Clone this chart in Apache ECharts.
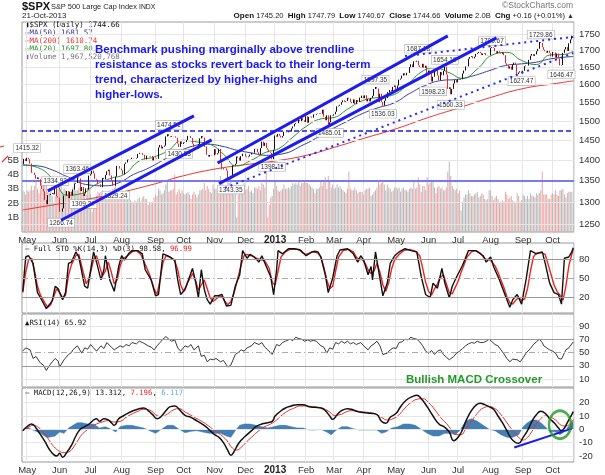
<!DOCTYPE html>
<html><head><meta charset="utf-8">
<script src="https://cdn.jsdelivr.net/npm/echarts@6/dist/echarts.min.js"></script>
<style>html,body{margin:0;padding:0;background:#fff}#c{width:605px;height:475px}</style>
</head><body><div id="c"></div>
<script>
// ---------- categories (NYSE trading days) ----------
const firstDay = '2012-04-26', lastDay = '2013-10-21';
const holidays = ['2012-05-28','2012-07-04','2012-09-03','2012-10-29','2012-10-30','2012-11-22','2012-12-25',
  '2013-01-01','2013-01-21','2013-02-18','2013-03-29','2013-05-27','2013-07-04','2013-09-02'];
const monthNames = ['Jan','Feb','Mar','Apr','May','Jun','Jul','Aug','Sep','Oct','Nov','Dec'];

// ---------- daily closes ----------
const closes = [
1390.69,1403.36,1397.91,
1405.82,1402.31,1391.57,1369.10,1369.58,1363.72,1354.58,1357.99,1353.39,1338.35,1330.66,1324.80,1304.86,1295.22,1315.99,1316.63,1318.86,1320.68,1317.82,1332.42,1313.32,1310.33,
1278.04,1278.18,1285.50,1315.13,1314.99,1325.66,1308.93,1324.18,1314.88,1329.10,1342.84,1344.78,1357.98,1355.69,1325.51,1335.02,1313.72,1319.99,1331.85,1329.04,1362.16,
1365.51,1374.02,1367.58,1354.68,1352.46,1341.47,1341.45,1334.76,1356.78,1353.64,1363.67,1372.78,1376.51,1362.66,1350.52,1338.31,1337.89,1360.02,1385.97,1385.30,1379.32,
1375.32,1365.00,1390.99,1394.23,1401.35,1402.22,1402.80,1405.87,1404.11,1403.93,1405.53,1415.51,1418.16,1418.13,1413.17,1413.49,1402.08,1411.13,1410.44,1409.30,1410.49,1399.48,1406.58,
1404.94,1403.44,1432.12,1437.92,1429.08,1433.56,1436.56,1459.99,1465.77,1461.19,1459.32,1461.05,1460.26,1460.15,1456.89,1441.59,1433.32,1447.15,1440.67,
1444.49,1445.75,1450.99,1461.40,1460.93,1455.88,1441.48,1432.56,1432.84,1428.59,1440.13,1454.92,1460.91,1457.34,1433.19,1433.82,1413.11,1408.75,1412.97,1411.94,1412.16,
1427.59,1414.20,1417.26,1428.39,1394.53,1377.51,1379.85,1380.03,1374.53,1355.49,1353.33,1359.88,1386.89,1387.81,1391.03,1409.15,1406.29,1398.94,1409.93,1415.95,1416.18,
1409.46,1407.05,1409.28,1413.94,1418.07,1418.55,1427.84,1428.48,1419.45,1413.58,1430.36,1446.79,1435.81,1443.69,1430.15,1426.66,1419.83,1418.10,1402.43,1426.19,
1462.42,1459.37,1466.47,1461.89,1457.15,1461.02,1472.12,1472.05,1470.68,1472.34,1472.63,1480.94,1485.98,1492.56,1494.81,1494.82,1502.96,1500.18,1507.84,1501.96,1498.11,
1513.17,1495.71,1511.29,1512.12,1509.39,1517.93,1517.01,1519.43,1520.33,1521.38,1519.79,1530.94,1511.95,1502.42,1515.60,1487.85,1496.94,1515.99,1514.68,
1518.20,1525.20,1539.79,1541.46,1544.26,1551.18,1556.22,1552.48,1554.52,1563.23,1560.70,1552.10,1548.34,1558.71,1545.80,1556.89,1551.69,1563.77,1562.85,1569.19,
1562.17,1570.25,1553.69,1559.98,1553.28,1563.07,1568.61,1587.73,1593.37,1588.85,1552.36,1574.57,1552.01,1541.61,1555.25,1562.50,1578.78,1578.79,1585.16,1582.24,1593.61,1597.57,
1582.70,1597.59,1614.42,1617.50,1625.96,1632.69,1626.67,1633.70,1633.77,1650.34,1658.78,1650.47,1667.47,1666.29,1669.16,1655.35,1650.51,1649.60,1660.06,1648.36,1654.41,1630.74,
1640.42,1631.38,1608.90,1622.56,1643.38,1642.81,1626.13,1612.52,1636.36,1626.73,1639.04,1651.81,1628.93,1588.19,1592.43,1573.09,1588.03,1603.26,1613.20,1606.28,
1614.96,1614.08,1615.41,1631.89,1640.46,1652.32,1652.62,1675.02,1680.19,1682.50,1676.26,1680.91,1689.37,1692.09,1695.53,1692.39,1685.94,1690.25,1691.65,1685.33,1685.96,1685.73,
1706.87,1709.67,1707.14,1697.37,1690.91,1697.48,1691.42,1689.47,1694.16,1685.39,1661.32,1655.83,1646.06,1652.35,1642.80,1656.96,1663.50,1656.78,1630.48,1634.96,1638.17,1632.97,
1639.77,1653.08,1655.08,1655.17,1671.71,1683.99,1689.13,1683.42,1687.99,1697.60,1704.76,1725.52,1722.34,1709.91,1701.84,1697.42,1692.77,1698.67,1691.75,1681.55,
1695.00,1693.87,1678.66,1690.50,1676.12,1655.45,1656.40,1692.56,1703.20,1710.14,1698.06,1721.54,1733.15,1744.50,1744.66
];

// ---------- daily volume (billions) ----------
const volumes = [
2.9,2.8,2.6,
2.9,2.8,2.9,3.2,2.9,3.2,3.5,3.0,2.7,3.0,3.2,3.4,3.6,3.8,2.8,2.7,2.9,2.5,2.0,2.5,2.8,3.0,
3.7,3.4,2.8,3.1,2.9,2.6,2.7,2.8,2.8,3.1,3.9,2.9,2.9,3.1,3.5,2.7,2.6,2.4,2.6,2.9,3.5,
2.6,1.4,2.2,2.4,2.5,2.8,2.7,2.8,2.9,2.7,2.8,2.8,2.7,2.9,2.8,3.0,3.1,3.2,3.0,2.6,2.7,
2.8,2.9,2.6,2.3,2.5,2.3,2.2,2.1,2.0,2.2,2.1,2.3,2.4,2.1,2.4,2.5,2.3,2.3,1.9,2.1,2.0,2.1,2.4,
2.6,2.5,3.0,2.9,2.6,2.7,2.9,3.3,3.6,2.8,2.9,2.9,3.0,4.0,2.6,2.8,3.0,2.7,2.9,
2.7,2.6,2.7,2.8,2.6,2.3,2.6,2.8,2.6,2.4,2.6,2.9,2.9,3.0,3.4,2.9,3.2,3.0,2.8,2.7,3.3,
3.0,3.0,2.6,3.0,3.9,3.6,3.2,2.7,3.0,3.5,3.4,3.6,3.0,2.6,2.7,1.0,2.6,2.9,3.1,2.8,3.4,
2.9,3.0,3.2,2.8,2.9,2.7,3.1,3.1,3.0,3.2,2.9,3.4,3.3,3.1,4.7,1.0,1.9,2.4,2.5,3.0,
3.6,3.2,2.9,2.8,2.9,3.0,3.3,3.0,3.0,3.1,3.0,3.2,3.4,3.3,3.4,3.3,3.5,3.2,3.4,3.4,3.5,
3.4,3.4,3.3,3.2,3.1,3.0,2.7,3.0,3.0,3.1,3.6,3.2,3.6,3.8,3.0,3.9,3.5,3.1,3.3,
3.0,3.1,3.3,3.1,3.2,3.0,2.9,2.8,2.7,3.0,4.2,3.0,2.9,2.9,3.1,2.9,2.7,2.8,2.8,2.8,
2.6,2.9,3.0,3.0,3.1,2.5,2.6,2.8,2.9,3.1,3.5,3.3,3.4,3.6,3.3,2.9,3.3,3.1,3.0,2.8,2.9,3.1,
3.1,3.0,3.1,2.8,3.0,3.1,2.9,2.9,2.8,3.0,3.1,3.0,3.5,3.0,3.1,3.8,3.3,2.8,3.2,3.2,2.9,3.8,
3.3,3.4,3.5,3.6,3.1,2.7,3.1,3.2,3.0,3.1,2.9,2.9,3.1,4.2,4.9,3.9,3.2,3.0,2.9,3.0,
2.7,2.9,1.5,2.1,2.4,2.6,2.6,2.9,2.7,2.5,2.5,2.6,2.7,2.8,2.4,2.5,2.7,2.6,2.3,2.2,2.3,2.9,
2.9,2.5,2.2,2.4,2.5,2.3,2.1,2.1,2.2,2.1,2.8,2.6,2.3,2.4,2.5,2.2,2.1,2.0,2.7,2.5,2.1,2.2,
2.6,2.5,2.3,2.5,2.3,2.7,2.5,2.5,2.4,2.7,2.6,2.7,2.9,4.2,2.6,2.6,2.6,2.3,2.3,2.6,
2.7,2.6,2.9,2.6,2.5,2.9,2.9,3.0,2.6,2.4,2.7,2.8,2.8,2.8,2.0
];

// ---------- moving averages [dayIndex, value] ----------
const ma20 = [[0,1388],[10,1382],[21,1352],[30,1316],[40,1320],[49,1340],[59,1355],[69,1366],[79,1398],[89,1408],[99,1425],[108,1450],[118,1446],[128,1438],[136,1415],[145,1386],[155,1400],[165,1420],[173,1428],[183,1458],[192,1486],[202,1506],[211,1510],[220,1532],[230,1555],[240,1564],[250,1570],[260,1597],[270,1636],[279,1648],[289,1634],[298,1618],[308,1645],[318,1686],[328,1694],[338,1670],[348,1658],[357,1686],[367,1688],[373,1697.8]];
const ma50 = [[0,1388],[10,1386],[20,1376],[30,1360],[45,1340],[55,1338],[65,1345],[75,1365],[85,1380],[95,1400],[105,1420],[115,1435],[125,1440],[135,1435],[145,1425],[155,1418],[165,1412],[175,1415],[191,1440],[200,1458],[210,1480],[220,1500],[230,1520],[240,1535],[252,1550],[262,1575],[274,1600],[284,1612],[294,1615],[305,1625],[316,1640],[327,1655],[338,1660],[348,1665],[358,1675],[373,1681.57]];
const ma200 = [[0,1282],[25,1296],[46,1308],[67,1323],[90,1343],[109,1362],[130,1378],[151,1389],[171,1398],[192,1412],[211,1432],[231,1455],[253,1480],[275,1510],[295,1535],[317,1564],[339,1589],[359,1602],[373,1610.74]];

// ---------- annotation values (price level labels, trendlines) ----------
const pivotLabels = [[3,1415.32,'top'],[22,1334.93,'top'],[26,1266.74,'bottom'],[37,1363.46,'top'],[41,1309.27,'bottom'],[63,1329.24,'bottom'],[99,1474.51,'top'],[106,1430.53,'bottom'],[141,1343.35,'bottom'],[169,1398.11,'bottom'],[208,1485.01,'bottom'],[239,1597.35,'top'],[244,1536.03,'bottom'],[268,1687.18,'top'],[278,1598.23,'bottom'],[286,1654.19,'top'],[290,1560.33,'bottom'],[318,1709.67,'top'],[338,1627.47,'bottom'],[351,1729.86,'top'],[365,1646.47,'bottom']];
const channelA_up = [[17,1326],[116,1514]];
const channelA_lo = [[26,1259],[128,1451]];
const channelB_up = [[132,1393],[288,1744]];
const channelB_lo = [[133,1343],[321,1738]];
const dottedTop = [[259,1683],[373,1741]];
const dottedLow = [[137,1333],[373,1692]];
const resistanceLevel = 1474.51;
const supportLevel = 1350;

// ---------- indicators [dayIndex, value] ----------
const stoK = [[0,30],[2,84],[4,86],[7,74],[10,28],[12,20],[16,3],[17,5],[20,15],[22,38],[24,34],[27,17],[29,28],[31,74],[33,76],[36,92],[38,84],[42,38],[44,35],[48,92],[50,76],[53,48],[55,64],[56,86],[59,48],[62,30],[65,69],[67,86],[69,79],[72,90],[74,94],[78,94],[81,89],[83,64],[87,48],[90,23],[92,25],[95,89],[98,86],[101,82],[103,79],[105,48],[107,25],[110,33],[115,66],[117,46],[119,20],[121,64],[123,33],[125,17],[127,10],[130,23],[132,23],[135,25],[138,7],[141,8],[144,38],[147,56],[149,94],[152,82],[154,88],[157,84],[160,76],[162,86],[165,69],[168,53],[170,25],[172,64],[173,94],[176,89],[180,97],[184,97],[188,95],[192,86],[196,92],[198,93],[200,92],[202,84],[205,56],[207,28],[210,51],[213,86],[215,95],[220,97],[224,89],[227,76],[229,86],[231,79],[234,56],[236,69],[237,48],[239,92],[241,64],[244,23],[247,43],[249,74],[252,86],[255,92],[259,97],[263,94],[267,92],[270,53],[273,25],[276,20],[278,43],[281,35],[284,66],[286,43],[289,20],[291,38],[294,53],[298,71],[302,94],[307,94],[312,86],[314,76],[317,84],[319,69],[323,48],[327,23],[330,5],[332,17],[335,25],[338,10],[341,48],[344,94],[348,89],[352,92],[354,74],[357,43],[360,28],[363,25],[365,10],[367,82],[370,84],[372,92],[373,98.58]];
const stoD = [[0,28],[2,60],[4,80],[6,82],[8,62],[10,38],[12,24],[15,12],[17,5],[19,9],[21,22],[23,34],[25,28],[27,20],[29,24],[31,55],[33,72],[36,86],[38,88],[41,60],[43,42],[45,50],[48,80],[50,86],[52,70],[54,54],[56,62],[58,76],[60,60],[62,42],[64,48],[66,70],[68,82],[70,84],[72,88],[74,92],[77,94],[80,88],[83,72],[86,56],[89,34],[91,25],[93,48],[95,75],[97,86],[100,84],[103,78],[105,64],[107,40],[109,30],[112,45],[115,58],[117,48],[119,32],[121,40],[123,48],[125,34],[127,20],[129,14],[131,18],[133,22],[135,22],[137,14],[139,9],[141,14],[143,26],[145,44],[148,72],[150,86],[152,88],[155,86],[158,82],[161,80],[164,78],[167,66],[169,44],[171,40],[173,62],[175,84],[178,92],[181,96],[184,96],[187,96],[190,90],[192,88],[195,91],[197,92],[200,90],[202,84],[204,68],[206,48],[208,34],[210,38],[212,62],[214,84],[217,94],[221,96],[224,92],[226,84],[228,80],[230,80],[232,74],[234,64],[236,58],[238,62],[240,74],[242,60],[244,40],[246,30],[248,44],[250,66],[252,80],[255,88],[258,94],[262,96],[266,93],[269,86],[271,66],[273,44],[275,30],[277,24],[279,34],[281,42],[283,52],[285,56],[287,42],[289,28],[291,26],[293,36],[295,46],[297,60],[299,72],[301,84],[304,92],[307,94],[310,90],[312,84],[314,80],[316,80],[318,76],[320,70],[322,60],[324,48],[326,36],[328,22],[330,12],[332,10],[334,16],[336,20],[338,16],[340,18],[342,34],[344,62],[346,84],[348,90],[351,91],[354,88],[356,72],[358,56],[360,40],[362,30],[364,24],[366,16],[368,38],[370,70],[372,88],[373,96.99]];
const rsi = [[0,52],[2,57],[5,54],[7,41],[9,44],[12,34],[14,31],[16,23],[18,30],[20,36],[22,41],[24,37],[25,28],[28,39],[31,47],[33,50],[34,54],[37,60],[40,49],[42,57],[44,55],[46,62],[48,57],[50,52],[53,60],[55,56],[57,65],[60,58],[62,54],[64,57],[66,60],[68,58],[70,62],[72,60],[74,65],[77,63],[79,67],[82,64],[85,60],[87,58],[89,54],[91,60],[93,65],[95,70],[97,74],[99,70],[101,67],[103,69],[105,57],[107,52],[110,60],[112,58],[114,62],[116,54],[119,60],[121,44],[123,46],[125,36],[127,40],[129,39],[131,41],[134,36],[136,38],[139,28],[141,31],[144,47],[146,50],[148,54],[150,52],[152,57],[155,60],[157,65],[160,62],[162,65],[164,58],[166,54],[169,47],[172,62],[174,60],[176,65],[178,67],[181,70],[183,68],[185,73],[187,71],[189,70],[191,67],[193,69],[195,67],[197,68],[199,67],[202,60],[204,58],[206,49],[208,57],[210,55],[212,65],[214,63],[216,67],[218,64],[220,67],[222,63],[224,65],[226,62],[229,65],[231,60],[234,54],[236,60],[238,63],[240,67],[242,60],[243,54],[244,47],[247,49],[249,54],[251,57],[253,56],[255,65],[257,66],[259,70],[261,69],[263,73],[265,71],[267,70],[269,66],[271,60],[273,52],[275,49],[277,53],[279,47],[281,52],[283,54],[285,47],[287,43],[289,39],[292,44],[294,49],[296,52],[298,56],[300,60],[302,63],[304,65],[306,64],[308,67],[310,65],[312,65],[314,67],[316,70],[318,66],[320,62],[322,60],[324,54],[326,48],[328,41],[330,36],[332,40],[333,41],[335,39],[337,36],[339,42],[341,49],[344,56],[346,62],[348,66],[350,70],[352,65],[353,60],[355,57],[357,54],[359,52],[361,49],[363,41],[365,40],[366,39],[368,54],[370,57],[371,60],[373,65.92]];
const macd = [[0,-1],[3,2],[6,4],[9,1],[12,-4],[15,-9],[18,-15],[21,-19],[23,-20],[25,-18],[27,-21],[30,-17],[33,-12],[36,-5],[39,0],[42,2],[45,4],[48,7],[50,8],[52,6],[55,8],[58,7],[60,5],[62,3],[65,8],[68,10],[71,12],[75,14],[79,15.5],[82,16],[85,14],[88,11],[91,8],[94,10],[97,14],[100,17],[103,17.5],[106,15],[110,10.5],[114,9],[117,7],[120,5],[124,2],[127,-1],[130,-4],[133,-6],[136,-10],[139,-16],[141,-19.5],[143,-17],[146,-11],[149,-7],[152,-4],[155,-1],[158,2],[162,4],[166,5],[169,6],[171,10],[174,13],[178,16],[182,17.5],[186,18.5],[190,18.5],[194,17],[198,16.5],[202,16],[205,14],[208,10],[210,7.5],[213,11],[216,14],[220,15.5],[224,14.5],[228,13],[232,12.5],[236,12],[240,11],[243,6],[246,4.5],[249,9],[253,12],[256,17],[260,22],[264,24.5],[267,25.5],[270,23],[274,17],[278,10],[282,4],[286,1.5],[289,-2],[292,-8.5],[295,-6],[298,0],[301,8],[304,14],[307,18],[310,19.5],[313,18.5],[316,17],[319,15],[322,10],[325,5],[328,-1],[331,-7],[334,-10],[336,-10.5],[339,-6],[342,-1],[345,6],[348,11],[351,13.5],[354,12],[357,8],[360,5],[363,1],[365,-1],[367,1],[369,5],[371,9],[373,13.312]];
const signal = [[0,-1],[4,1.5],[7,3],[10,2],[13,-1],[16,-5],[19,-10],[22,-14],[25,-16.5],[28,-17.5],[31,-17],[34,-14],[37,-9],[40,-4],[43,-1],[46,1.5],[50,4],[54,5.5],[58,6.5],[62,5.5],[66,6],[70,9],[74,11.5],[78,13.5],[82,15],[86,14.5],[90,11],[94,9.5],[98,11.5],[102,14.5],[106,15.5],[110,13],[114,10.5],[118,8],[122,5.5],[126,2.5],[130,-1],[134,-4],[138,-8],[142,-14],[145,-15.5],[148,-13.5],[152,-9],[156,-5],[160,-1],[164,2],[168,4],[172,7],[176,11],[180,14],[184,16],[188,17.5],[192,17.5],[196,17],[200,16.5],[204,15.5],[208,13],[211,10.5],[215,11],[219,13],[223,14],[227,13.5],[231,13],[235,12.5],[239,11.5],[243,9],[247,7],[251,8],[255,11],[259,16],[263,20],[267,22.5],[271,23],[275,20],[279,15],[283,9],[287,4.5],[291,-1],[294,-4],[297,-4],[300,0],[304,6],[308,12],[312,16],[316,17],[320,15.5],[324,11],[328,5],[332,-1],[336,-6],[339,-8],[342,-6],[345,-1.5],[348,4],[351,8],[354,10],[357,9.5],[361,7],[365,3],[368,2.5],[371,4.5],[373,7.196]];
const histogram = [[0,0],[4,1],[8,-1],[12,-3],[16,-6],[18,-6],[22,-5],[25,-2],[28,-3],[31,1],[34,3],[37,5],[40,5],[44,4],[48,4],[52,1],[56,2],[60,0],[63,-2],[66,2],[70,3],[74,3],[78,2],[82,1],[86,-1],[90,-3],[94,0],[98,3],[102,3],[106,0],[110,-2.5],[114,-1.5],[118,-1],[122,-2],[126,-3],[130,-3],[134,-3],[138,-5],[141,-6],[144,-1],[147,3],[150,4],[154,4],[158,3],[162,2],[166,1],[170,2],[174,3],[178,3],[182,2],[186,1],[190,1],[194,-0.5],[198,-0.5],[202,0],[206,-2],[209,-4],[212,-1],[216,2],[220,2],[224,0.5],[228,-0.5],[232,-0.5],[236,-0.5],[240,-0.5],[243,-3],[246,-2],[250,1],[254,2],[258,4],[262,4],[266,3],[270,0],[274,-3],[278,-5],[282,-5],[286,-3],[290,-3],[293,-4],[296,-1],[300,6],[304,8],[308,6],[312,3],[316,0],[320,-1],[324,-4],[328,-6],[332,-6],[336,-4],[339,2],[342,5],[345,7],[348,7],[351,5],[354,2],[357,-1.5],[361,-2],[364,-4],[366,-2.5],[369,1],[371,4],[373,6.117]];
const macdTrend = [[333,-13.6],[372,0.5]];
const crossoverMark = [[364,3.5]];

// ---------- tick labels ----------
const priceTicks = [1250,1300,1350,1400,1450,1500,1550,1600,1650,1700,1750];
const volumeTicks = [1,2,3,4,5];
const stoTicks = [20,50,80];
const rsiTicks = [10,30,50,70,90];
const macdTicks = [-20,-10,0,10,20];

// ---------- build ----------
function buildDates(){
  const out=[]; let t=Date.parse(firstDay+'T00:00:00Z'); const end=Date.parse(lastDay+'T00:00:00Z');
  while(t<=end){ const d=new Date(t); const wd=d.getUTCDay(); const s=d.toISOString().slice(0,10);
    if(wd!==0&&wd!==6&&holidays.indexOf(s)<0) out.push(s); t+=86400000; }
  return out;
}
const dates = buildDates();
const isMonthStart = dates.map((d,i)=> i>0 && d.slice(5,7)!==dates[i-1].slice(5,7));
const candleData = closes.map((c,i)=>{ const o = i>0?closes[i-1]:c; return [o,c,Math.min(o,c),Math.max(o,c)]; });
const volData = volumes.map((v,i)=>({value:v, itemStyle:{color: (i>0 && closes[i]<closes[i-1]) ? '#eaa6a6' : '#b9b9b9'}}));

const FONT = '"Liberation Sans", Arial, sans-serif';
const MONO = '"DejaVu Sans Mono", monospace';
const GRID_LEFT = 22, GRID_W = 552;
const gridLine = '#e6e6e6';

function xAxis(gi, labels){
  return {type:'category', gridIndex:gi, data:dates, boundaryGap:true,
    axisLine:{show:false}, axisTick:{show:false},
    axisLabel:{show:labels, interval:(i)=>isMonthStart[i], margin:3, fontSize:9.5, color:'#333', fontFamily:FONT,
      formatter:(v)=>{const m=+v.slice(5,7); return m===1?'{y|'+v.slice(0,4)+'}':monthNames[m-1];},
      rich:{y:{fontWeight:'bold',fontSize:10,color:'#222',fontFamily:FONT}}},
    splitLine:{show:true, interval:(i)=>isMonthStart[i], lineStyle:{color:gridLine,width:1}}};
}
function yRight(gi,min,max,ticks,type){
  const a={type:type||'value', gridIndex:gi, position:'right', min:min, max:max, scale:true,
    axisLine:{show:false}, axisTick:{show:false}, splitLine:{show:false},
    axisLabel:{customValues:ticks, formatter:(v)=>String(Math.round(v)), margin:5, fontSize:9.5, color:'#333', fontFamily:FONT}};
  if(type==='log') a.logBase=10;
  return a;
}
function levels(vals, color, type, width){
  return vals.map(v=>({yAxis:v, lineStyle:{color:color, type:type||'solid', width:width||1}}));
}
function ml(data){ return {silent:true, symbol:['none','none'], label:{show:false}, animation:false, data:data}; }
function trend(xi, yi, data, color, width, type){
  return {type:'line', xAxisIndex:xi, yAxisIndex:yi, data:data, symbol:'none', silent:true, z:6,
    lineStyle:{color:color, width:width, type:type||'solid'}};
}

const option = {
  animation:false,
  textStyle:{fontFamily:FONT},
  grid:[
    {left:GRID_LEFT, top:22, width:GRID_W, height:210, show:true, borderColor:'#999', borderWidth:1, backgroundColor:'#fff'},
    {left:GRID_LEFT, top:243, width:GRID_W, height:70, show:true, borderColor:'#999', borderWidth:1},
    {left:GRID_LEFT, top:314, width:GRID_W, height:73, show:true, borderColor:'#999', borderWidth:1},
    {left:GRID_LEFT, top:388, width:GRID_W, height:75, show:true, borderColor:'#999', borderWidth:1}
  ],
  xAxis:[xAxis(0,true), xAxis(1,false), xAxis(2,false), xAxis(3,true)],
  yAxis:[
    yRight(0,1233,1787.5,priceTicks,'log'),
    {type:'value', gridIndex:0, position:'left', min:0, max:14.6, axisLine:{show:false}, axisTick:{show:false}, splitLine:{show:false},
     axisLabel:{customValues:volumeTicks, formatter:(v)=>v+'B', margin:3, fontSize:9.5, color:'#333', fontFamily:FONT}},
    yRight(1,-4,106,stoTicks),
    yRight(2,-2,108,rsiTicks),
    yRight(3,-24.5,31,macdTicks)
  ],
  series:[
    {type:'line', xAxisIndex:0, yAxisIndex:0, data:[], z:0, markLine:ml(levels(priceTicks,gridLine))},
    {type:'bar', xAxisIndex:0, yAxisIndex:1, data:volData, barWidth:'62%', z:1, silent:true},
    {type:'candlestick', xAxisIndex:0, yAxisIndex:0, data:candleData, barWidth:1, z:5, silent:true,
     itemStyle:{color:'#111', color0:'#e3262b', borderColor:'#111', borderColor0:'#e3262b', borderWidth:1},
     markLine:ml([
       {yAxis:resistanceLevel, lineStyle:{color:'#1a1ae6', type:[5,3], width:1.6}},
       {yAxis:supportLevel, lineStyle:{color:'#7a7af0', type:'solid', width:2}}
     ]),
     markPoint:{symbol:'circle', symbolSize:0, silent:true, animation:false,
       data:pivotLabels.map(p=>({coord:[p[0],p[1]], value:p[1],
         label:{show:true, position:p[2], distance:2, formatter:p[1].toFixed(2), fontSize:6.5, color:'#333', fontFamily:FONT,
           backgroundColor:'#fff', borderColor:'#aaa', borderWidth:0.6, padding:[1,1.5,0,1.5]}}))}},
    {type:'line', xAxisIndex:0, yAxisIndex:0, data:ma200, symbol:'none', smooth:true, lineStyle:{color:'#ee3333', width:1}, z:4, silent:true},
    {type:'line', xAxisIndex:0, yAxisIndex:0, data:ma50, symbol:'none', smooth:true, lineStyle:{color:'#3b3b9c', width:1}, z:4, silent:true},
    {type:'line', xAxisIndex:0, yAxisIndex:0, data:ma20, symbol:'none', smooth:true, lineStyle:{color:'#2f8f2f', width:1}, z:4, silent:true},
    trend(0,0,channelA_up,'#1c1cf0',3),
    trend(0,0,channelA_lo,'#1c1cf0',3),
    trend(0,0,channelB_up,'#1c1cf0',3),
    trend(0,0,channelB_lo,'#1c1cf0',3),
    trend(0,0,dottedTop,'#2a2af5',2,[2,4]),
    trend(0,0,dottedLow,'#2a2af5',2,[2,4]),
    {type:'line', xAxisIndex:1, yAxisIndex:2, data:stoD, symbol:'none', lineStyle:{color:'#ee2222', width:1.4}, z:3, silent:true,
     markLine:ml(levels([80,20],'#999','solid',1.2).concat(levels([50],'#aaa',[6,3,1,3],1)))},
    {type:'line', xAxisIndex:1, yAxisIndex:2, data:stoK, symbol:'none', lineStyle:{color:'#111', width:1.4}, z:4, silent:true},
    {type:'line', xAxisIndex:2, yAxisIndex:3, data:rsi, symbol:'none', lineStyle:{color:'#222', width:0.9}, z:4, silent:true,
     markLine:ml(levels([90,10],gridLine).concat(levels([70,30],'#999','solid',1.2)).concat(levels([50],'#aaa',[6,3,1,3],1)))},
    {type:'line', xAxisIndex:3, yAxisIndex:4, data:histogram, symbol:'none', lineStyle:{color:'#3a78b0', width:0.5},
     areaStyle:{color:'#3a78b0', opacity:0.95}, z:2, silent:true,
     markLine:ml(levels(macdTicks,gridLine))},
    {type:'line', xAxisIndex:3, yAxisIndex:4, data:signal, symbol:'none', smooth:true, lineStyle:{color:'#ee2a2a', width:1}, z:4, silent:true},
    {type:'line', xAxisIndex:3, yAxisIndex:4, data:macd, symbol:'none', smooth:true, lineStyle:{color:'#111', width:1.5}, z:5, silent:true},
    trend(3,4,macdTrend,'#1c1cf0',2),
    {type:'scatter', xAxisIndex:3, yAxisIndex:4, data:crossoverMark, symbol:'circle', symbolSize:[22,28], z:7, silent:true,
     itemStyle:{color:'rgba(0,0,0,0)', borderColor:'#1e9a1e', borderWidth:2.6}}
  ],
  graphic:[
    {type:'text', left:22, top:1, style:{text:'$SPX', font:'bold 11px '+FONT, fill:'#111'}},
    {type:'text', left:51, top:3, style:{text:'S&P 500 Large Cap Index', font:'7.4px '+FONT, fill:'#222'}},
    {type:'text', left:139, top:4, style:{text:'INDX', font:'6.8px '+FONT, fill:'#222'}},
    {type:'text', left:22, top:12, style:{text:'21-Oct-2013', font:'8px '+FONT, fill:'#222'}},
    {type:'text', right:32, top:1, style:{text:'©StockCharts.com', font:'8.5px '+FONT, fill:'#777'}},
    {type:'text', right:31, top:12, style:{text:'{b|Open} 1745.20  {b|High} 1747.79  {b|Low} 1740.67  {b|Close} 1744.66  {b|Volume} 2.0B  {b|Chg} +0.16 (+0.01%) {t|▲}',
      font:'7.6px '+FONT, fill:'#222', rich:{b:{font:'bold 8px '+FONT, fill:'#111'}, t:{font:'7px '+FONT, fill:'#333'}}}},
    {type:'text', x:25, y:25, style:{text:'▮$SPX (Daily) 1744.66', font:'7.5px '+MONO, fill:'#111', verticalAlign:'middle'}},
    {type:'text', x:25, y:32.8, style:{text:'—MA(50) 1681.57', font:'7.5px '+MONO, fill:'#3b3b9c', verticalAlign:'middle'}},
    {type:'text', x:25, y:40.8, style:{text:'—MA(200) 1610.74', font:'7.5px '+MONO, fill:'#ee3333', verticalAlign:'middle'}},
    {type:'text', x:25, y:48.8, style:{text:'—MA(20) 1697.80', font:'7.5px '+MONO, fill:'#2f8f2f', verticalAlign:'middle'}},
    {type:'text', x:25, y:56.6, style:{text:'▮Volume 1,967,520,768', font:'7.5px '+MONO, fill:'#777', verticalAlign:'middle'}},
    {type:'text', left:95, top:42, z:20, style:{text:'Benchmark pushing marginally above trendline\nresistance as stocks revert back to their long-term\ntrend, characterized by higher-highs and\nhigher-lows.',
      font:'bold 11.5px '+FONT, fill:'#1a1aee', lineHeight:15}},
    {type:'text', x:25, y:249, z:20, style:{text:'— Full STO %K(14,3) %D(3) 98.58, {r|96.99}', font:'7.3px '+MONO, fill:'#111', verticalAlign:'middle', rich:{r:{fill:'#ee2222', font:'7.3px '+MONO}}}},
    {type:'text', x:25, y:323, z:20, style:{text:'▲RSI(14) 65.92', font:'7.3px '+MONO, fill:'#111', verticalAlign:'middle'}},
    {type:'text', x:25, y:393, z:20, style:{text:'— MACD(12,26,9) 13.312, {r|7.196}, {c|6.117}', font:'7.3px '+MONO, fill:'#111', verticalAlign:'middle', rich:{r:{fill:'#ee2222', font:'7.3px '+MONO}, c:{fill:'#5aaedc', font:'7.3px '+MONO}}}},
    {type:'text', left:406, top:374, z:20, style:{text:'Bullish MACD Crossover', font:'bold 11.5px '+FONT, fill:'#23992a'}},
    {type:'polyline', z:20, shape:{points:[[0,147],[4,146]]}, style:{stroke:'#e33', lineWidth:1.2, fill:null}},
    {type:'polyline', z:20, shape:{points:[[2,162],[8,156]]}, style:{stroke:'#e33', lineWidth:1.2, fill:null}}
  ]
};
if (dates.length !== closes.length) console.error('length mismatch', dates.length, closes.length);
const chart = echarts.init(document.getElementById('c'), null, {renderer:'canvas'});
chart.setOption(option);
</script></body></html>
